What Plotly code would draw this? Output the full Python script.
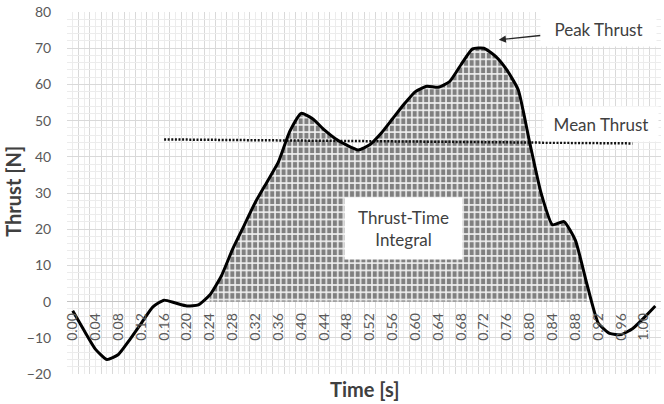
import plotly.graph_objects as go

# ---------------- data ----------------
time_s = [0.00, 0.02, 0.04, 0.06, 0.08, 0.10, 0.12, 0.14, 0.16, 0.18,
          0.20, 0.22, 0.24, 0.26, 0.28, 0.30, 0.32, 0.34, 0.36, 0.38,
          0.40, 0.42, 0.44, 0.46, 0.48, 0.50, 0.52, 0.54, 0.56, 0.58,
          0.60, 0.62, 0.64, 0.66, 0.68, 0.70, 0.72, 0.74, 0.76, 0.78,
          0.80, 0.82, 0.84, 0.86, 0.88, 0.90, 0.92, 0.94, 0.96, 0.98,
          1.00, 1.02]
thrust_n = [-2.5, -8.0, -13.2, -16.0, -14.6, -10.5, -6.0, -1.5, 0.4, -0.4,
            -1.2, -0.9, 1.8, 7.0, 14.5, 21.0, 27.5, 33.0, 38.5, 47.0,
            52.0, 50.5, 47.5, 45.0, 43.2, 41.9, 43.3, 46.5, 50.5, 54.5,
            58.0, 59.5, 59.2, 60.8, 65.5, 69.8, 70.0, 67.8, 64.0, 58.5,
            44.0, 30.0, 21.2, 22.1, 17.0, 5.0, -5.9, -8.8, -9.1, -7.5,
            -4.5, -1.2]
x_tick_labels = ["0.00", "0.04", "0.08", "0.12", "0.16", "0.20", "0.24", "0.28",
                 "0.32", "0.36", "0.40", "0.44", "0.48", "0.52", "0.56", "0.60",
                 "0.64", "0.68", "0.72", "0.76", "0.80", "0.84", "0.88", "0.92",
                 "0.96", "1.00"]
y_tick_values = [-20, -10, 0, 10, 20, 30, 40, 50, 60, 70, 80]
mean_time = [0.16, 0.98]
mean_thrust = [44.8, 43.7]
integral_start = 0.24
integral_end = 0.90

FONT = "Lato"
TICK_COLOR = "#595959"
TEXT_COLOR = "#404040"

# shaded integral region
fill_x = [t for t in time_s if integral_start - 1e-9 <= t <= integral_end + 1e-9]
fill_y = [max(0.0, v) for t, v in zip(time_s, thrust_n)
          if integral_start - 1e-9 <= t <= integral_end + 1e-9]

label_map = {round(float(s), 2): s for s in x_tick_labels}
tick_text = [label_map.get(round(t, 2), "") for t in time_s]
boundaries = [round(t + 0.01, 2) for t in time_s]

fig = go.Figure()

fig.add_trace(go.Scatter(
    x=fill_x, y=fill_y, mode="none", fill="tozeroy",
    fillcolor="rgba(0,0,0,0)",
    fillpattern=dict(shape="|", size=5.7, solidity=0.27,
                     bgcolor="#808080", fgcolor="#f2f2f2", fillmode="replace"),
    hoverinfo="skip", showlegend=False))
fig.add_trace(go.Scatter(
    x=fill_x, y=fill_y, mode="none", fill="tozeroy",
    fillcolor="rgba(0,0,0,0)",
    fillpattern=dict(shape="-", size=7.28, solidity=0.22,
                     bgcolor="rgba(0,0,0,0)", fgcolor="#f2f2f2", fillmode="replace"),
    hoverinfo="skip", showlegend=False))

fig.add_trace(go.Scatter(
    x=mean_time, y=mean_thrust, mode="lines",
    line=dict(color="#111111", width=2.5, dash="2px,1.6px"),
    showlegend=False))

fig.add_trace(go.Scatter(
    x=time_s, y=thrust_n, mode="lines",
    line=dict(color="#000000", width=3, shape="spline", smoothing=0.5),
    showlegend=False))

fig.update_xaxes(
    range=[-0.01, 1.03], anchor="free", position=0.2,
    tickmode="array", tickvals=time_s, ticktext=tick_text,
    tickangle=-90, ticks="outside", ticklen=5, tickcolor="rgba(0,0,0,0)",
    tickfont=dict(family=FONT, size=14, color=TICK_COLOR),
    showgrid=True, gridcolor="#ececec", gridwidth=1,
    minor=dict(tickmode="array", tickvals=boundaries, showgrid=True,
               gridcolor="#d9d9d9", gridwidth=1, ticks=""),
    showline=False, zeroline=False)

fig.update_yaxes(
    range=[-20, 80], domain=[0, 1],
    tickmode="array", tickvals=y_tick_values,
    ticks="outside", ticklen=12, tickcolor="rgba(0,0,0,0)",
    tickfont=dict(family=FONT, size=14, color=TICK_COLOR),
    showgrid=True, gridcolor="#d9d9d9", gridwidth=1,
    minor=dict(dtick=2, tick0=0, showgrid=True, gridcolor="#ececec", gridwidth=1),
    zeroline=True, zerolinecolor="#c4c4c4", zerolinewidth=1.2,
    showline=False)

annot_font = dict(family=FONT, size=17, color=TEXT_COLOR)
fig.add_annotation(x=0.746, y=72.3, xref="x", yref="y",
                   text="Peak Thrust", showarrow=True,
                   ax=99.5, ay=-10.5, arrowhead=2, arrowsize=1.1,
                   arrowwidth=1.3, arrowcolor="#262626",
                   bgcolor="white", width=115, height=34, borderpad=0,
                   font=annot_font)
fig.add_annotation(x=0.925, y=49.2, xref="x", yref="y",
                   text="Mean Thrust", showarrow=False,
                   bgcolor="white", width=114, height=34, borderpad=0,
                   font=annot_font)
fig.add_annotation(x=0.580, y=20.2, xref="x", yref="y",
                   text="Thrust-Time<br>Integral", showarrow=False,
                   bgcolor="white", width=117, height=61, borderpad=0,
                   font=annot_font)

fig.add_annotation(x=0.5, y=-0.041, xref="paper", yref="paper",
                   text="<b>Time [s]</b>", showarrow=False,
                   xanchor="center", yanchor="middle",
                   font=dict(family=FONT, size=20, color=TEXT_COLOR))
fig.add_annotation(x=-0.09, y=0.505, xref="paper", yref="paper",
                   text="<b>Thrust [N]</b>", showarrow=False, textangle=-90,
                   xanchor="center", yanchor="middle",
                   font=dict(family=FONT, size=20, color=TEXT_COLOR))

fig.update_layout(
    width=664, height=404,
    margin=dict(l=67, r=3, t=10, b=30),
    paper_bgcolor="white", plot_bgcolor="white",
    showlegend=False,
    font=dict(family=FONT),
)

fig.write_html("out.html",
               config={"displayModeBar": False},
               post_script="document.body.style.margin='0';"
                           "document.documentElement.style.margin='0';")
